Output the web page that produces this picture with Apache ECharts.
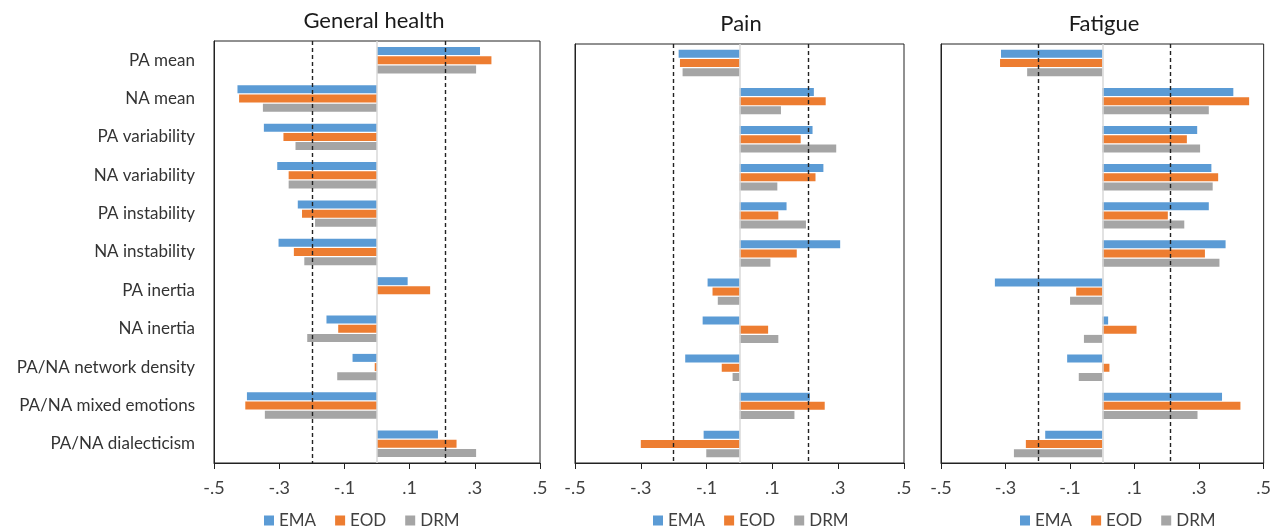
<!DOCTYPE html>
<html>
<head>
<meta charset="utf-8">
<script src="https://cdn.jsdelivr.net/npm/echarts@6/dist/echarts.min.js"></script>
<style>
html,body{margin:0;padding:0;background:#fff;}
#chart{width:1274px;height:531px;}
</style>
</head>
<body>
<div id="chart"></div>
<script>
// ---- data ----
const categories = ['PA mean','NA mean','PA variability','NA variability','PA instability','NA instability','PA inertia','NA inertia','PA/NA network density','PA/NA mixed emotions','PA/NA dialecticism'];
const seriesNames = ['EMA','EOD','DRM'];
const panelTitles = ['General health','Pain','Fatigue'];

const healthEMA = [0.316,-0.428,-0.347,-0.306,-0.243,-0.302,0.094,-0.155,-0.075,-0.399,0.187];
const healthEOD = [0.351,-0.423,-0.287,-0.271,-0.230,-0.255,0.163,-0.119,-0.007,-0.404,0.244];
const healthDRM = [0.304,-0.350,-0.250,-0.271,-0.190,-0.223,0.000,-0.214,-0.122,-0.344,0.304];

const painEMA = [-0.185,0.226,0.222,0.255,0.143,0.306,-0.097,-0.112,-0.165,0.214,-0.109];
const painEOD = [-0.181,0.262,0.186,0.231,0.118,0.174,-0.082,0.087,-0.054,0.259,-0.300];
const painDRM = [-0.173,0.126,0.294,0.115,0.202,0.094,-0.066,0.118,-0.021,0.167,-0.101];

const fatigueEMA = [-0.314,0.406,0.294,0.338,0.330,0.382,-0.333,0.018,-0.109,0.371,-0.177];
const fatigueEOD = [-0.317,0.455,0.262,0.359,0.203,0.318,-0.081,0.106,0.022,0.428,-0.237];
const fatigueDRM = [-0.233,0.330,0.303,0.342,0.254,0.363,-0.100,-0.057,-0.073,0.295,-0.274];

const xTickValues = [-0.5,-0.3,-0.1,0.1,0.3,0.5];
const thresholds = [-0.2, 0.21];
const zeroValue = 0;

// ---- layout / styles ----
const colors = ['#5B9BD5','#ED7D31','#A5A5A5'];
const FONT = 'Lato, "Open Sans", sans-serif';
const grids = [
  {left:214, width:326, top:41, height:422, titleX:374, titleTop:10, legendLeft:264},
  {left:575, width:329, top:44, height:419, titleX:741, titleTop:13, legendLeft:653},
  {left:941, width:329, top:44, height:419, titleX:1104, titleTop:13, legendLeft:1020}
];
const panelData = [
  [healthEMA, healthEOD, healthDRM],
  [painEMA, painEOD, painDRM],
  [fatigueEMA, fatigueEOD, fatigueDRM]
];

const option = {
  animation:false,
  backgroundColor:'#fff',
  color: colors,
  textStyle:{fontFamily:FONT},
  title: panelTitles.map((t,i)=>({
    text:t, left: grids[i].titleX, top:grids[i].titleTop, textAlign:'center', padding:0,
    textStyle:{fontFamily:FONT, fontSize:22, fontWeight:'normal', color:'#1a1a1a'}
  })),
  legend: grids.map((g,i)=>({
    data: seriesNames, left: g.legendLeft, top:512, icon:'rect', padding:0,
    itemWidth:10, itemHeight:10, itemGap:19,
    textStyle:{fontFamily:FONT, fontSize:17, color:'#404040'}
  })),
  grid: grids.map(g=>({left:g.left, width:g.width, top:g.top, height:g.height,
    show:true, borderColor:'#222', borderWidth:1, containLabel:false})),
  xAxis: grids.map((g,i)=>({
    type:'value', gridIndex:i, min:-0.5, max:0.5,
    axisLine:{show:true, onZero:false, lineStyle:{color:'#222', width:1}},
    axisTick:{show:true, customValues:xTickValues, length:6, lineStyle:{color:'#222'}},
    axisLabel:{show:true, customValues:xTickValues, margin:16,
      fontFamily:FONT, fontSize:18, color:'#404040',
      formatter: v => v.toFixed(1).replace('0.', '.')},
    splitLine:{show:false}
  })),
  yAxis: grids.map((g,i)=>({
    type:'category', gridIndex:i, data:categories, inverse:true,
    axisLine:{show:true, onZero:false, lineStyle:{color:'#222'}},
    axisTick:{show:false},
    axisLabel:{show:i===0, margin:19, fontFamily:FONT, fontSize:17, color:'#333'},
    splitLine:{show:false}
  })),
  series: []
};

panelData.forEach((arr, p) => {
  arr.forEach((vals, s) => {
    const ser = {
      name: seriesNames[s], type:'bar', xAxisIndex:p, yAxisIndex:p,
      data: vals, barWidth:8, barGap:'15%',
      itemStyle:{color:colors[s]}
    };
    if (s === 2) {
      ser.markLine = {
        silent:true, symbol:['none','none'], label:{show:false},
        data: [
          {xAxis: zeroValue, lineStyle:{color:'#D9D9D9', type:'solid', width:1.5}},
          {xAxis: thresholds[0], lineStyle:{color:'#222', type:[4,3], width:1.4}},
          {xAxis: thresholds[1], lineStyle:{color:'#222', type:[4,3], width:1.4}}
        ]
      };
    }
    option.series.push(ser);
  });
});

const chart = echarts.init(document.getElementById('chart'), null, {renderer:'canvas'});
chart.setOption(option);
</script>
</body>
</html>
